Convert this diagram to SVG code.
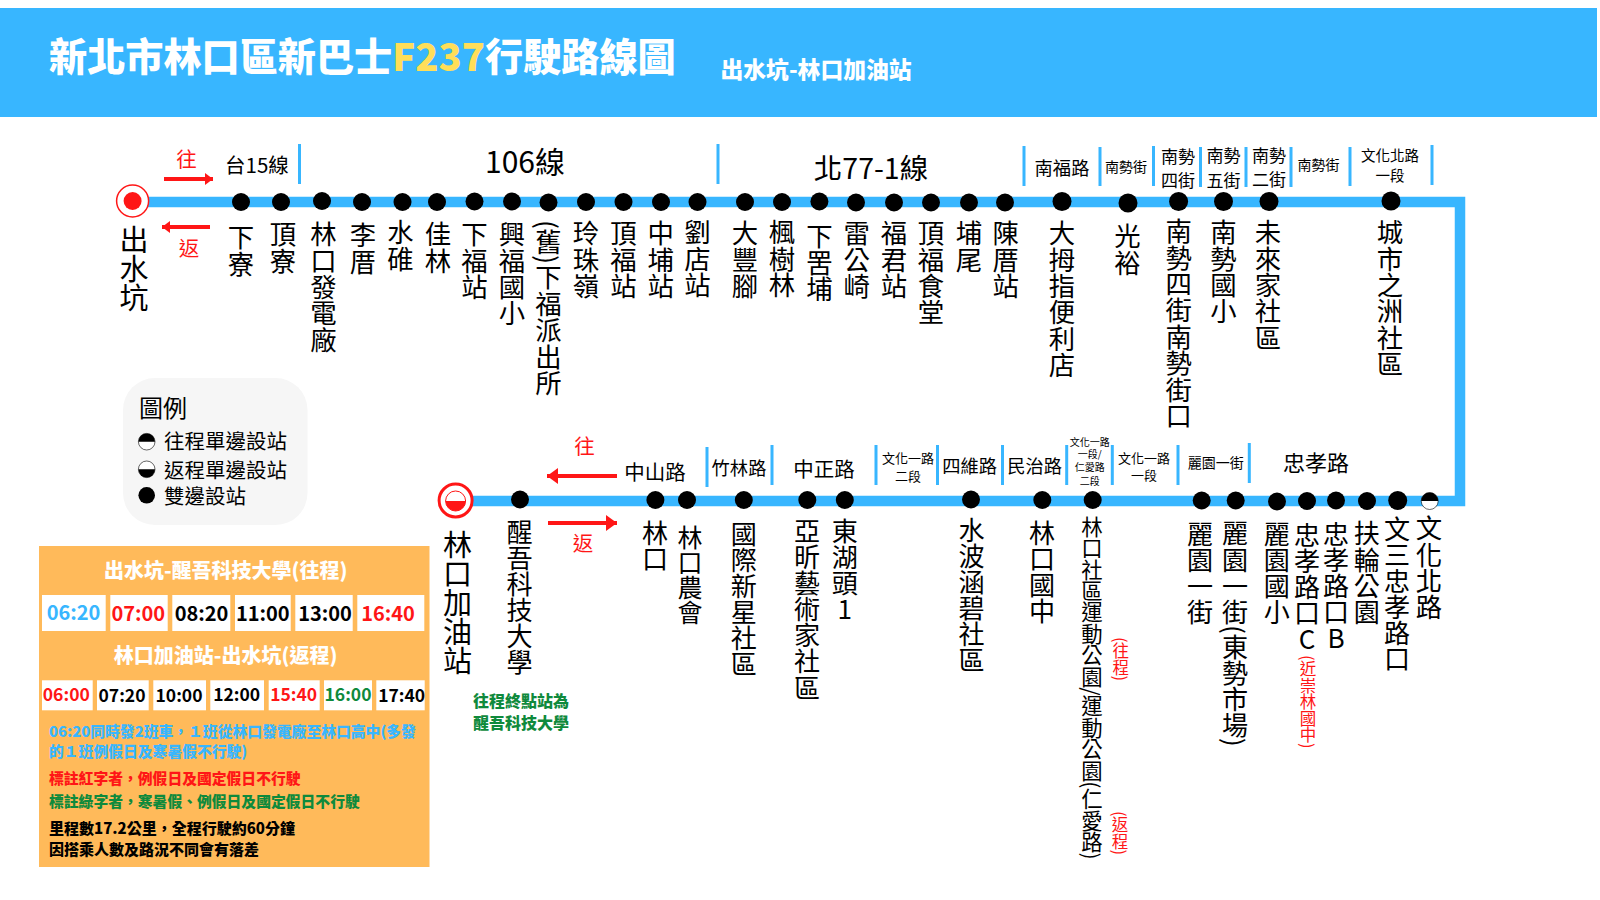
<svg xmlns="http://www.w3.org/2000/svg" width="1600" height="900" viewBox="0 0 1600 900">
<style>
text{font-family:"Noto Sans CJK TC","Noto Sans CJK SC",sans-serif;fill:#000}
.c{text-anchor:middle;dominant-baseline:central}
.l{dominant-baseline:central}
.b{font-weight:700}
.k{font-weight:900}
.v{writing-mode:vertical-rl;font-size:26.400px}
.vb{font-size:26.100px}
.u{text-orientation:upright}
.r{fill:#ff1616}
.w{fill:#fff}
.g{fill:#0f8a3c}
.s{fill:#38b6ff}
.route{fill:none;stroke:#38b6ff;stroke-width:10.5}
.sep{stroke:#38b6ff;stroke-width:3}
.arrow{stroke:#ff1616;stroke-width:4;fill:none;marker-end:url(#ah)}
.arrow2{stroke:#ff1616;stroke-width:4;fill:none;marker-end:url(#ah2)}
.cell{fill:#fff}
.d{fill:#000}
</style>
<defs>
<marker id="ah" markerUnits="userSpaceOnUse" markerWidth="10" markerHeight="14" refX="8" refY="6" orient="auto"><path d="M0 0L8 6L0 12Z" fill="#ff1616"/></marker>
<marker id="ah2" markerUnits="userSpaceOnUse" markerWidth="12" markerHeight="18" refX="11" refY="8" orient="auto"><path d="M0 0L11 8L0 16Z" fill="#ff1616"/></marker>
</defs>
<rect id="header" x="0" y="8" width="1597" height="109" fill="#38b6ff"/>
<text class="k l w" x="49" y="54" font-size="38.150">新北市林口區新巴士<tspan fill="#ffde59">F237</tspan>行駛路線圖</text>
<text class="k l w" x="720.500" y="68.500" font-size="22.800">出水坑-林口加油站</text>

<g id="connectors">
<path class="route" d="M133 202H1460V501H455"/>
<path class="arrow" d="M164 179H213"/>
<path class="arrow" d="M210 227H162"/>
<path class="arrow2" d="M617 476H547"/>
<path class="arrow2" d="M548 523H617"/>
</g>

<g id="separators">
<path class="sep" d="M299.500 144V184M718 144V184M1024 146V186M1100 147V186M1153.500 146V186M1200.500 147V187M1246 147V187M1291 147V187M1350 147V186M1432 145V185"/>
<path class="sep" d="M707 447V487M772 445V485M876 445V485M937.500 445V485M1002.500 445V485M1066.700 445V485M1112.300 445V485M1178 445V485M1249.300 443V483"/>
</g>

<g id="road-labels">
<text class="c" x="257" y="164" font-size="20.500">台15線</text>
<text class="c" x="525" y="160" font-size="30">106線</text>
<text class="c" x="871" y="166" font-size="28.500">北77-1線</text>
<text class="c" x="1062" y="167" font-size="18.300">南福路</text>
<text class="c" x="1126" y="166" font-size="14">南勢街</text>
<text class="c" x="1178" y="155" font-size="17">南勢</text><text class="c" x="1178" y="179" font-size="17">四街</text>
<text class="c" x="1223.500" y="154" font-size="17">南勢</text><text class="c" x="1223.500" y="179" font-size="17">五街</text>
<text class="c" x="1269" y="154" font-size="17">南勢</text><text class="c" x="1269" y="178" font-size="17">二街</text>
<text class="c" x="1318.500" y="163.500" font-size="14">南勢街</text>
<text class="c" x="1390" y="154" font-size="14.500">文化北路</text><text class="c" x="1390" y="174.500" font-size="14.500">一段</text>
<text class="c" x="655" y="471" font-size="20.500">中山路</text>
<text class="c" x="739" y="467" font-size="18.300">竹林路</text>
<text class="c" x="824" y="468" font-size="20.500">中正路</text>
<text class="c" x="908" y="457" font-size="13">文化一路</text><text class="c" x="908" y="475" font-size="13">二段</text>
<text class="c" x="969.700" y="465" font-size="18.300">四維路</text>
<text class="c" x="1034.700" y="465" font-size="18.300">民治路</text>
<text class="c" x="1089.700" y="441" font-size="10">文化一路</text><text class="c" x="1089.700" y="453.500" font-size="10">一段/</text><text class="c" x="1089.700" y="466.500" font-size="10">仁愛路</text><text class="c" x="1089.700" y="480" font-size="10">二段</text>
<text class="c" x="1144" y="457" font-size="13">文化一路</text><text class="c" x="1144" y="474" font-size="13">一段</text>
<text class="c" x="1215.700" y="462" font-size="14">麗園一街</text>
<text class="c" x="1316" y="461" font-size="22">忠孝路</text>
<text class="c r" x="186.500" y="158" font-size="20.500">往</text>
<text class="c r" x="189" y="247" font-size="20.500">返</text>
<text class="c r" x="584.500" y="445" font-size="20.500">往</text>
<text class="c r" x="583" y="542" font-size="20.500">返</text>
</g>

<g id="n-start"><circle cx="132.600" cy="201" r="16" fill="#fff" stroke="#ff1616" stroke-width="1.500"/><circle cx="132.600" cy="201" r="9" fill="#ff1616"/><text class="v" x="134" y="225" style="font-size:29px">出水坑</text></g>
<g id="n-1"><circle class="d" cx="241" cy="202" r="9"/><text class="v" x="241" y="224">下寮</text></g>
<g id="n-2"><circle class="d" cx="281" cy="202" r="9"/><text class="v" x="283" y="221">頂寮</text></g>
<g id="n-3"><circle class="d" cx="322" cy="201" r="9"/><text class="v" x="323.500" y="221">林口發電廠</text></g>
<g id="n-4"><circle class="d" cx="362" cy="202" r="9"/><text class="v" x="363" y="222">李厝</text></g>
<g id="n-5"><circle class="d" cx="402.500" cy="202" r="9"/><text class="v" x="400.500" y="219">水碓</text></g>
<g id="n-6"><circle class="d" cx="437" cy="202" r="9"/><text class="v" x="438" y="221">佳林</text></g>
<g id="n-7"><circle class="d" cx="474.500" cy="201.500" r="9"/><text class="v" x="474.500" y="221">下福站</text></g>
<g id="n-8"><circle class="d" cx="512" cy="201.500" r="9"/><text class="v" x="512" y="221">興福國小</text></g>
<g id="n-9"><circle class="d" cx="548.500" cy="202.500" r="9"/><text class="v" x="548.500" y="220">(舊)下福派出所</text></g>
<g id="n-10"><circle class="d" cx="586" cy="202" r="9"/><text class="v" x="586" y="220">玲珠嶺</text></g>
<g id="n-11"><circle class="d" cx="623.500" cy="202" r="9"/><text class="v" x="623.500" y="220">頂福站</text></g>
<g id="n-12"><circle class="d" cx="661" cy="202" r="9"/><text class="v" x="660.700" y="220">中埔站</text></g>
<g id="n-13"><circle class="d" cx="697.500" cy="202" r="9"/><text class="v" x="697.500" y="219">劉店站</text></g>
<g id="n-14"><circle class="d" cx="745" cy="202" r="9"/><text class="v" x="745" y="220">大豐腳</text></g>
<g id="n-15"><circle class="d" cx="782" cy="202" r="9"/><text class="v" x="782" y="219">楓樹林</text></g>
<g id="n-16"><circle class="d" cx="819.400" cy="201.500" r="9"/><text class="v" x="819.400" y="223">下罟埔</text></g>
<g id="n-17"><circle class="d" cx="856" cy="202.500" r="9"/><text class="v" x="856.600" y="220">雷公崎</text></g>
<g id="n-18"><circle class="d" cx="894" cy="202.500" r="9"/><text class="v" x="894" y="220">福君站</text></g>
<g id="n-19"><circle class="d" cx="931" cy="202.500" r="9"/><text class="v" x="931" y="220">頂福食堂</text></g>
<g id="n-20"><circle class="d" cx="969" cy="202.500" r="9"/><text class="v" x="969" y="220">埔尾</text></g>
<g id="n-21"><circle class="d" cx="1005" cy="202.500" r="9"/><text class="v" x="1005.600" y="220">陳厝站</text></g>
<g id="n-22"><circle class="d" cx="1062" cy="201.500" r="9.500"/><text class="v" x="1062" y="220">大拇指便利店</text></g>
<g id="n-23"><circle class="d" cx="1128" cy="203" r="9.500"/><text class="v" x="1127.500" y="223">光裕</text></g>
<g id="n-24"><circle class="d" cx="1178.600" cy="201.500" r="9.500"/><text class="v" x="1178.600" y="218">南勢四街南勢街口</text></g>
<g id="n-25"><circle class="d" cx="1223.500" cy="201.500" r="9.500"/><text class="v" x="1223.500" y="219">南勢國小</text></g>
<g id="n-26"><circle class="d" cx="1269" cy="201.500" r="9.500"/><text class="v" x="1268" y="219">未來家社區</text></g>
<g id="n-27"><circle class="d" cx="1391" cy="201" r="9.500"/><text class="v" x="1390" y="219">城市之洲社區</text></g>

<g id="n-end"><circle cx="455.600" cy="500.500" r="16.500" fill="#fff" stroke="#ff1616" stroke-width="3"/><circle cx="455.600" cy="501" r="10" fill="#fff" stroke="#ff1616" stroke-width="1"/><path d="M445.600 501A10 10 0 0 0 465.600 501Z" fill="#ff1616"/><text class="v" x="457.500" y="530" style="font-size:29px">林口加油站</text></g>
<g id="s-1"><circle class="d" cx="520" cy="499.500" r="9"/><text class="v vb" x="519.500" y="519">醒吾科技大學</text></g>
<g id="s-2"><circle class="d" cx="655.400" cy="500" r="9"/><text class="v vb" x="655" y="520">林口</text></g>
<g id="s-3"><circle class="d" cx="687" cy="500" r="9"/><text class="v" x="690" y="525" style="font-size:25px">林口農會</text></g>
<g id="s-4"><circle class="d" cx="743.800" cy="500" r="9"/><text class="v vb" x="743.800" y="521">國際新星社區</text></g>
<g id="s-5"><circle class="d" cx="807.300" cy="500" r="9"/><text class="v vb" x="807" y="518">亞昕藝術家社區</text></g>
<g id="s-6"><circle class="d" cx="844.800" cy="500" r="9"/><text class="v vb u" x="844.800" y="518">東湖頭1</text></g>
<g id="s-7"><circle class="d" cx="971" cy="499.500" r="9"/><text class="v vb" x="971.500" y="517">水波涵碧社區</text></g>
<g id="s-8"><circle class="d" cx="1042.300" cy="500" r="9"/><text class="v vb" x="1042" y="520">林口國中</text></g>
<g id="s-9"><circle class="d" cx="1092.700" cy="500" r="9"/><text class="v" x="1092" y="516" style="font-size:21.400px">林口社區運動公園/運動公園(仁愛路)</text><text class="v r" x="1120.700" y="637" style="font-size:16.500px">(往程)</text><text class="v r" x="1120" y="811" style="font-size:16.500px">(返程)</text></g>
<g id="s-10"><circle class="d" cx="1201.700" cy="500.500" r="9"/><text class="v vb" x="1200" y="521">麗園一街</text></g>
<g id="s-11"><circle class="d" cx="1235.700" cy="500.500" r="9"/><text class="v vb" x="1235" y="520.500">麗園一街(東勢市場)</text></g>
<g id="s-12"><circle class="d" cx="1277" cy="501.500" r="9"/><text class="v vb" x="1276.700" y="521">麗園國小</text></g>
<g id="s-13"><circle class="d" cx="1307" cy="501" r="9"/><text class="v vb u" x="1307" y="522">忠孝路口C</text><text class="v r" x="1308" y="655" style="font-size:16.500px">(近崇林國中)</text></g>
<g id="s-14"><circle class="d" cx="1336" cy="500.500" r="9"/><text class="v vb u" x="1336" y="521">忠孝路口B</text></g>
<g id="s-15"><circle class="d" cx="1367" cy="501" r="9"/><text class="v vb" x="1366.700" y="520.500">扶輪公園</text></g>
<g id="s-16"><circle class="d" cx="1397.700" cy="500.500" r="9.500"/><text class="v vb" x="1397" y="516">文三忠孝路口</text></g>
<g id="s-17"><circle cx="1429.700" cy="501" r="8.500" fill="#fff" stroke="#000" stroke-width=".6"/><path d="M1421.200 501A8.500 8.500 0 0 1 1438.200 501Z" fill="#000"/><text class="v" x="1429" y="515">文化北路</text></g>

<g id="legend">
<rect x="123" y="378" width="184.500" height="147" rx="32" fill="#f6f6f6"/>
<text class="l" x="139" y="406.500" font-size="24">圖例</text>
<circle cx="146.700" cy="441.700" r="8.300" fill="#fff" stroke="#000" stroke-width=".6"/><path d="M138.400 441.700A8.300 8.300 0 0 1 155 441.700Z" fill="#000"/>
<circle cx="146.700" cy="469.300" r="8.300" fill="#fff" stroke="#000" stroke-width=".6"/><path d="M138.400 469.300A8.300 8.300 0 0 0 155 469.300Z" fill="#000"/>
<circle cx="146.700" cy="495.300" r="8.300" fill="#000"/>
<text class="l" x="164" y="440" font-size="20.500">往程單邊設站</text>
<text class="l" x="164" y="469" font-size="20.500">返程單邊設站</text>
<text class="l" x="164" y="495" font-size="20.500">雙邊設站</text>
</g>

<g id="timetable">
<rect x="39" y="546" width="390.500" height="321" fill="#ffba5a"/>
<text class="c k w" x="225.800" y="569.500" font-size="20">出水坑-醒吾科技大學(往程)</text>
<rect class="cell" x="42" y="595" width="63.700" height="36"/>
<rect class="cell" x="110.300" y="595" width="57.400" height="36"/>
<rect class="cell" x="172.300" y="595" width="58" height="36"/>
<rect class="cell" x="235" y="595" width="55.700" height="36"/>
<rect class="cell" x="295.300" y="595" width="57.400" height="36"/>
<rect class="cell" x="357.300" y="595" width="67" height="36"/>
<text class="c b s" x="73.500" y="611" font-size="20">06:20</text>
<text class="c b r" x="138.300" y="612" font-size="20">07:00</text>
<text class="c b" x="201.500" y="612" font-size="20">08:20</text>
<text class="c b" x="262.800" y="612" font-size="20">11:00</text>
<text class="c b" x="325" y="612" font-size="20">13:00</text>
<text class="c b r" x="388" y="612" font-size="20">16:40</text>
<text class="c k w" x="225.700" y="654.500" font-size="20">林口加油站-出水坑(返程)</text>
<rect class="cell" x="42" y="680.300" width="50.700" height="30"/>
<rect class="cell" x="97" y="680.300" width="51.700" height="30"/>
<rect class="cell" x="153.300" y="680.300" width="52.700" height="30"/>
<rect class="cell" x="210.300" y="680.300" width="53.700" height="30"/>
<rect class="cell" x="268.700" y="680.300" width="51" height="30"/>
<rect class="cell" x="324" y="680.300" width="48" height="30"/>
<rect class="cell" x="376.300" y="680.300" width="48.400" height="30"/>
<text class="c b r" x="66.300" y="693.500" font-size="17.500">06:00</text>
<text class="c b" x="122" y="694.500" font-size="17.500">07:20</text>
<text class="c b" x="179" y="694.500" font-size="17.500">10:00</text>
<text class="c b" x="236.700" y="693.500" font-size="17.500">12:00</text>
<text class="c b r" x="293.700" y="693.500" font-size="17.500">15:40</text>
<text class="c b g" x="348" y="693.500" font-size="17.500">16:00</text>
<text class="c b" x="401.700" y="694.500" font-size="17.500">17:40</text>
<text class="l k s" x="49" y="730.700" font-size="14.800">06:20同時發2班車，１班從林口發電廠至林口高中(多發</text>
<text class="l k s" x="49" y="750.700" font-size="14.800">的１班例假日及寒暑假不行駛)</text>
<text class="l k r" x="49" y="777.700" font-size="14.800">標註紅字者，例假日及國定假日不行駛</text>
<text class="l k g" x="49" y="800.700" font-size="14.800">標註綠字者，寒暑假、例假日及國定假日不行駛</text>
<text class="l k" x="49" y="827.300" font-size="15">里程數17.2公里，全程行駛約60分鐘</text>
<text class="l k" x="49" y="848" font-size="15">因搭乘人數及路況不同會有落差</text>
</g>
<g id="note">
<text class="l k g" x="473" y="700" font-size="16">往程終點站為</text>
<text class="l k g" x="473" y="721.500" font-size="16">醒吾科技大學</text>
</g>
</svg>
